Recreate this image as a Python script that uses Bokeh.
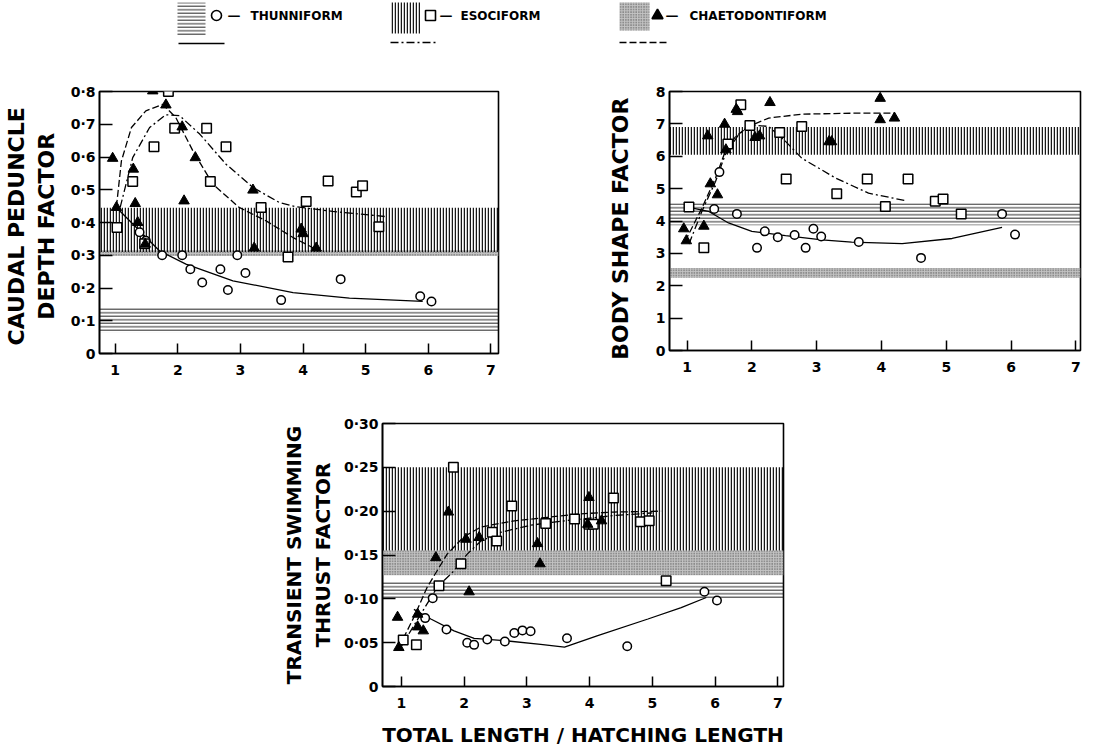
from bokeh.plotting import figure
from bokeh.layouts import column, row, Spacer
from bokeh.models import Range1d, FixedTicker, BoxAnnotation
from bokeh.embed import file_html
from bokeh.resources import INLINE
from bokeh.core.properties import value

# ---------------- data ----------------
x_ticks = [1, 2, 3, 4, 5, 6, 7]

# Panel 1: caudal peduncle depth factor
p1_yticks = [0, 0.1, 0.2, 0.3, 0.4, 0.5, 0.6, 0.7, 0.8]
p1_ylabels = ["0", "0·1", "0·2", "0·3", "0·4", "0·5", "0·6", "0·7", "0·8"]
p1_thun_x = [1.39, 1.49, 1.75, 2.07, 2.20, 2.39, 2.68, 2.80, 2.95, 3.08, 3.65, 4.60, 5.87, 6.05]
p1_thun_y = [0.37, 0.344, 0.30, 0.30, 0.257, 0.217, 0.257, 0.194, 0.30, 0.246, 0.163, 0.227, 0.175, 0.159]
p1_eso_x = [1.03, 1.28, 1.47, 1.62, 1.85, 1.95, 2.46, 2.52, 2.77, 3.33, 3.76, 4.05, 4.40, 4.85, 4.95, 5.21]
p1_eso_y = [0.385, 0.525, 0.335, 0.631, 0.80, 0.688, 0.688, 0.525, 0.631, 0.446, 0.295, 0.464, 0.527, 0.493, 0.512, 0.387]
p1_chae_x = [0.96, 1.02, 1.29, 1.32, 1.36, 1.48, 1.60, 1.81, 2.07, 2.10, 2.28, 3.20, 3.22, 3.97, 4.00, 4.21]
p1_chae_y = [0.596, 0.446, 0.563, 0.458, 0.40, 0.334, 0.802, 0.759, 0.692, 0.466, 0.598, 0.499, 0.322, 0.38, 0.366, 0.322]
p1_thun_fit_x = [1.02, 1.39, 1.71, 2.13, 2.88, 3.84, 4.74, 5.91]
p1_thun_fit_y = [0.446, 0.375, 0.313, 0.273, 0.222, 0.186, 0.169, 0.159]
p1_chae_fit_x = [1.02, 1.10, 1.26, 1.49, 1.76, 1.97, 2.24, 2.56, 2.98, 3.41, 3.84, 4.26]
p1_chae_fit_y = [0.448, 0.588, 0.69, 0.741, 0.761, 0.72, 0.619, 0.517, 0.446, 0.405, 0.354, 0.313]
p1_eso_fit_x = [1.08, 1.28, 1.55, 1.81, 2.03, 2.35, 2.77, 3.20, 3.62, 3.89, 4.47, 5.32]
p1_eso_fit_y = [0.446, 0.598, 0.69, 0.729, 0.726, 0.67, 0.578, 0.507, 0.461, 0.448, 0.434, 0.418]
p1_thun_band = (0.065, 0.14)
p1_eso_band = (0.31, 0.445)
p1_chae_band = (0.298, 0.315)

# Panel 2: body shape factor
p2_yticks = [0, 1, 2, 3, 4, 5, 6, 7, 8]
p2_ylabels = ["0", "1", "2", "3", "4", "5", "6", "7", "8"]
p2_thun_x = [1.42, 1.50, 1.77, 2.08, 2.20, 2.40, 2.66, 2.83, 2.95, 3.07, 3.65, 4.61, 5.86, 6.06]
p2_thun_y = [4.37, 5.51, 4.22, 3.17, 3.68, 3.50, 3.57, 3.17, 3.76, 3.52, 3.35, 2.86, 4.22, 3.58]
p2_eso_x = [1.03, 1.26, 1.63, 1.83, 1.97, 2.43, 2.53, 2.77, 3.31, 3.78, 4.06, 4.41, 4.83, 4.95, 5.23]
p2_eso_y = [4.43, 3.17, 6.38, 7.59, 6.95, 6.73, 5.30, 6.92, 4.84, 5.30, 4.45, 5.30, 4.61, 4.68, 4.22]
p2_chae_x = [0.95, 0.99, 1.26, 1.32, 1.36, 1.47, 1.58, 1.60, 1.76, 1.78, 2.05, 2.12, 2.28, 3.19, 3.23, 3.98, 3.98, 4.20]
p2_chae_y = [3.76, 3.39, 3.84, 6.63, 5.15, 4.81, 6.99, 6.20, 7.45, 7.38, 6.58, 6.63, 7.66, 6.45, 6.45, 7.79, 7.13, 7.18]
p2_thun_fit_x = [1.03, 1.33, 1.64, 2.0, 2.52, 3.08, 3.54, 4.32, 5.09, 5.86]
p2_thun_fit_y = [4.42, 4.30, 3.94, 3.68, 3.55, 3.42, 3.35, 3.30, 3.46, 3.80]
p2_chae_fit_x = [0.97, 1.23, 1.44, 1.59, 1.75, 1.95, 2.26, 2.77, 3.55, 4.19]
p2_chae_fit_y = [3.37, 4.40, 5.33, 6.15, 6.61, 6.92, 7.18, 7.30, 7.33, 7.33]
p2_eso_fit_x = [1.03, 1.23, 1.44, 1.59, 1.80, 1.98, 2.26, 2.52, 2.77, 3.29, 3.80, 4.37]
p2_eso_fit_y = [3.29, 4.30, 5.22, 6.05, 6.68, 6.97, 6.92, 6.46, 5.94, 5.33, 4.86, 4.63]
p2_thun_band = (3.87, 4.55)
p2_eso_band = (6.05, 6.9)
p2_chae_band = (2.25, 2.55)

# Panel 3: transient swimming thrust factor
p3_yticks = [0, 0.05, 0.10, 0.15, 0.20, 0.25, 0.30]
p3_ylabels = ["0", "0·05", "0·10", "0·15", "0·20", "0·25", "0·30"]
p3_thun_x = [1.38, 1.50, 1.72, 2.05, 2.16, 2.37, 2.65, 2.80, 2.93, 3.06, 3.64, 4.60, 5.83, 6.03]
p3_thun_y = [0.078, 0.1008, 0.065, 0.050, 0.0475, 0.0536, 0.0513, 0.061, 0.064, 0.063, 0.055, 0.046, 0.108, 0.098]
p3_eso_x = [1.03, 1.24, 1.60, 1.83, 1.95, 2.45, 2.52, 2.76, 3.30, 3.76, 3.99, 4.06, 4.38, 4.81, 4.95, 5.22]
p3_eso_y = [0.053, 0.0475, 0.115, 0.250, 0.140, 0.176, 0.166, 0.206, 0.186, 0.191, 0.185, 0.185, 0.215, 0.188, 0.189, 0.1205]
p3_chae_x = [0.94, 0.96, 1.26, 1.26, 1.35, 1.55, 1.75, 2.03, 2.08, 2.24, 3.17, 3.21, 3.99, 3.97, 4.19]
p3_chae_y = [0.079, 0.0445, 0.0825, 0.068, 0.0635, 0.147, 0.199, 0.168, 0.108, 0.170, 0.163, 0.140, 0.2156, 0.185, 0.189]
p3_thun_fit_x = [1.20, 1.47, 1.84, 2.16, 2.69, 3.22, 3.60, 4.13, 4.93, 5.46, 5.86]
p3_thun_fit_y = [0.088, 0.077, 0.0635, 0.055, 0.052, 0.048, 0.045, 0.058, 0.077, 0.090, 0.1015]
p3_chae_fit_x = [0.96, 1.20, 1.41, 1.73, 2.00, 2.27, 2.80, 3.33, 3.86, 4.39, 5.14]
p3_chae_fit_y = [0.0445, 0.079, 0.113, 0.151, 0.171, 0.182, 0.189, 0.193, 0.197, 0.199, 0.200]
p3_eso_fit_x = [0.99, 1.31, 1.57, 1.84, 2.05, 2.27, 2.59, 3.06, 3.60, 4.39, 5.00]
p3_eso_fit_y = [0.0445, 0.0825, 0.113, 0.132, 0.151, 0.166, 0.176, 0.184, 0.189, 0.195, 0.198]
p3_thun_band = (0.10, 0.12)
p3_eso_band = (0.155, 0.25)
p3_chae_band = (0.127, 0.155)

legend_names = ["THUNNIFORM", "ESOCIFORM", "CHAETODONTIFORM"]

# ---------------- styles ----------------
FONT = "DejaVu Sans"
HATCH = {
    "thun": dict(hatch_pattern="horizontal_line", hatch_scale=3.5, hatch_weight=1.0,
                 hatch_color="#111111", hatch_alpha=0.9, fill_color=None, fill_alpha=0),
    "eso": dict(hatch_pattern="vertical_line", hatch_scale=3.0, hatch_weight=1.5,
                hatch_color="#000000", hatch_alpha=0.9, fill_color=None, fill_alpha=0),
    "chae": dict(hatch_pattern="dot", hatch_scale=2.6, hatch_weight=1.6,
                 hatch_color="#333333", hatch_alpha=0.9, fill_color="#c4c4c4", fill_alpha=1.0),
}
DASH = {"thun": "solid", "eso": "8 3 2 3", "chae": "7 3"}


def make_panel(xr, yr, yticks, ylabels, ylabel, fw, fh, bl, bt, bb, br,
               label_size, label_standoff, series, bands, xlabel=None):
    p = figure(frame_width=fw, frame_height=fh,
               x_range=Range1d(*xr), y_range=Range1d(*yr),
               output_backend="svg", toolbar_location=None,
               min_border_left=bl, min_border_top=bt,
               min_border_bottom=bb, min_border_right=br)
    p.grid.visible = False
    p.outline_line_color = "black"
    p.outline_line_width = 1.6
    p.outline_line_alpha = 1.0
    for key, (b, t) in bands.items():
        p.add_layout(BoxAnnotation(bottom=b, top=t, line_color=None, level="underlay", **HATCH[key]))
    for ax in (p.xaxis[0], p.yaxis[0]):
        ax.axis_line_width = 1.6
        ax.axis_line_color = "black"
        ax.major_tick_out = 0
        ax.minor_tick_line_color = None
        ax.major_tick_line_width = 1.5
        ax.major_tick_line_color = "black"
        ax.major_label_text_font = FONT
        ax.major_label_text_font_style = "bold"
        ax.major_label_text_font_size = "14px"
        ax.major_label_text_color = "black"
    p.xaxis.ticker = FixedTicker(ticks=x_ticks)
    p.xaxis.major_tick_in = 10
    p.xaxis.major_label_standoff = 11
    p.yaxis.ticker = FixedTicker(ticks=yticks)
    p.yaxis.major_label_overrides = {t: l for t, l in zip(yticks, ylabels)}
    p.yaxis.major_tick_in = 13
    p.yaxis.major_label_standoff = 4
    p.yaxis.axis_label = ylabel
    p.yaxis.axis_label_text_font = FONT
    p.yaxis.axis_label_text_font_style = "bold"
    p.yaxis.axis_label_text_font_size = label_size
    p.yaxis.axis_label_text_color = "black"
    p.yaxis.axis_label_standoff = label_standoff
    if xlabel:
        p.xaxis.axis_label = xlabel
        p.xaxis.axis_label_text_font = FONT
        p.xaxis.axis_label_text_font_style = "bold"
        p.xaxis.axis_label_text_font_size = "20px"
        p.xaxis.axis_label_text_color = "black"
        p.xaxis.axis_label_standoff = 12

    (tx, ty, ex, ey, cx, cy, tfx, tfy, efx, efy, cfx, cfy) = series
    p.line(tfx, tfy, line_color="black", line_width=1.3, line_dash=DASH["thun"])
    p.line(efx, efy, line_color="black", line_width=1.3, line_dash=DASH["eso"])
    p.line(cfx, cfy, line_color="black", line_width=1.3, line_dash=DASH["chae"])
    p.scatter(tx, ty, marker="circle", size=8.5, fill_color="white", line_color="black", line_width=1.5)
    p.scatter(ex, ey, marker="square", size=9.5, fill_color="white", line_color="black", line_width=1.5)
    p.scatter(cx, cy, marker="triangle", size=10.5, fill_color="black", line_color="black", line_width=1.0)
    return p


p1 = make_panel((0.75, 7.12), (0, 0.8), p1_yticks, p1_ylabels,
                "CAUDAL  PEDUNCLE\nDEPTH  FACTOR", 399, 262, 92, 33, 35, 101,
                "22px", 9,
                (p1_thun_x, p1_thun_y, p1_eso_x, p1_eso_y, p1_chae_x, p1_chae_y,
                 p1_thun_fit_x, p1_thun_fit_y, p1_eso_fit_x, p1_eso_fit_y, p1_chae_fit_x, p1_chae_fit_y),
                {"thun": p1_thun_band, "chae": p1_chae_band, "eso": p1_eso_band})

p2 = make_panel((0.73, 7.07), (0, 8), p2_yticks, p2_ylabels,
                "BODY  SHAPE  FACTOR", 411, 259, 70, 32, 39, 10,
                "22px", 20,
                (p2_thun_x, p2_thun_y, p2_eso_x, p2_eso_y, p2_chae_x, p2_chae_y,
                 p2_thun_fit_x, p2_thun_fit_y, p2_eso_fit_x, p2_eso_fit_y, p2_chae_fit_x, p2_chae_fit_y),
                {"thun": p2_thun_band, "chae": p2_chae_band, "eso": p2_eso_band})

p3 = make_panel((0.70, 7.09), (0, 0.30), p3_yticks, p3_ylabels,
                "TRANSIENT SWIMMING\nTHRUST FACTOR", 401, 263, 95, 35, 56, 20,
                "20px", 6,
                (p3_thun_x, p3_thun_y, p3_eso_x, p3_eso_y, p3_chae_x, p3_chae_y,
                 p3_thun_fit_x, p3_thun_fit_y, p3_eso_fit_x, p3_eso_fit_y, p3_chae_fit_x, p3_chae_fit_y),
                {"thun": p3_thun_band, "chae": p3_chae_band, "eso": p3_eso_band},
                xlabel="TOTAL LENGTH / HATCHING LENGTH")

# ---------------- legend strip ----------------
lg = figure(width=1090, height=58, x_range=Range1d(0, 1090), y_range=Range1d(58, 0),
            output_backend="svg", toolbar_location=None,
            min_border=0, min_border_left=0, min_border_right=0, min_border_top=0, min_border_bottom=0)
lg.axis.visible = False
lg.grid.visible = False
lg.outline_line_color = None

leg_keys = ["thun", "eso", "chae"]
leg_patch_left = [177, 390, 619]
leg_patch_right = [205, 420, 649]
leg_patch_top = [2, 2, 2]
leg_patch_bottom = [35, 33, 30]
leg_marker_x = [216, 430, 657]
leg_marker = ["circle", "square", "triangle"]
leg_fill = ["white", "white", "black"]
leg_dash_x = [227, 439, 665]
leg_name_x = [250, 460, 689]
leg_line_left = [178, 390, 619]
leg_line_right = [224, 437, 667]
leg_line_y = [43, 42, 42]

for i, key in enumerate(leg_keys):
    lg.quad(left=[leg_patch_left[i]], right=[leg_patch_right[i]],
            top=[leg_patch_top[i]], bottom=[leg_patch_bottom[i]],
            line_color=None, **HATCH[key])
    lg.scatter([leg_marker_x[i]], [15], marker=leg_marker[i], size=10 if i < 2 else 11,
               fill_color=leg_fill[i], line_color="black", line_width=1.6)
    lg.text([leg_dash_x[i]], [15], text=["—"],
            text_font=value(FONT), text_font_style="bold", text_font_size="13px",
            text_baseline="middle", text_align="left", text_color="black")
    lg.text([leg_name_x[i]], [15], text=[legend_names[i]],
            text_font=value(FONT), text_font_style="bold", text_font_size="12px",
            text_baseline="middle", text_align="left", text_color="black")
    lg.line([leg_line_left[i], leg_line_right[i]], [leg_line_y[i], leg_line_y[i]],
            line_color="black", line_width=1.6, line_dash=DASH[key])

layout = column(lg, row(p1, p2), row(Spacer(width=279, height=10), p3))

open("out.html", "w").write(file_html(layout, INLINE))
